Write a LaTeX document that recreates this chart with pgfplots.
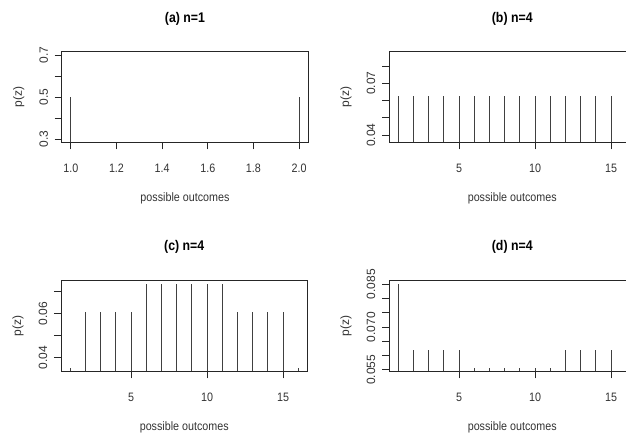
\documentclass[border=0pt]{standalone}
\usepackage{fontspec}
\setmainfont[FakeStretch=0.88]{Liberation Sans}
\newfontfamily\rotfont{Liberation Sans}
\usepackage{pgfplots}
\pgfplotsset{compat=1.18}

% R-like spike plot style, sizes in px (1px = 1bp)
\pgfplotsset{
  rplot/.style={
    scale only axis, width=246.5bp, height=90.6bp,
    anchor=south west, clip=true,
    font=\fontsize{12.2bp}{14bp}\selectfont,
    scaled y ticks=false, scaled x ticks=false,
    axis line style={black!85, line width=0.8bp},
    tick align=outside, xtick pos=bottom, ytick pos=left,
    major tick length=7bp, tick style={black!85, line width=0.8bp},
    xticklabel style={anchor=center, yshift=-19bp, text=black!80},
    yticklabel style={xshift=-11bp, rotate=90, anchor=center, text=black!80,
      font=\rotfont\fontsize{12bp}{14bp}\selectfont},
    title style={at={(axis description cs:0.5,1.3)}, anchor=center,
      font=\fontsize{14bp}{16bp}\selectfont\bfseries},
    xlabel style={at={(axis description cs:0.5,-0.62)}, anchor=center, text=black!80},
    ylabel style={at={(axis description cs:-0.1745,0.5)}, anchor=center, text=black!80,
      font=\rotfont\fontsize{12bp}{14bp}\selectfont},
    xlabel={possible outcomes}, ylabel={p(z)},
  },
  spikes/.style={ycomb, black!75, line width=0.9bp, mark=none},
}

\begin{document}
\begin{tikzpicture}
\useasboundingbox (0,0) rectangle (626bp,434bp);
\clip (0,0) rectangle (626bp,434bp);

% (a)
\begin{axis}[rplot, at={(61.7bp,291.7bp)},
  title={(a) n=1},
  xmin=0.96, xmax=2.04, ymin=0.284, ymax=0.716,
  xtick={1.0,1.2,1.4,1.6,1.8,2.0}, xticklabels={1.0,1.2,1.4,1.6,1.8,2.0},
  ytick={0.3,0.4,0.5,0.6,0.7}, yticklabels={0.3,,0.5,,0.7}]
  \addplot[spikes] coordinates {(1,0.5) (2,0.5)};
\end{axis}

% (b)
\begin{axis}[rplot, at={(389bp,291.7bp)},
  title={(b) n=4},
  xmin=0.4, xmax=16.6, ymin=0.0358, ymax=0.0883,
  xtick={5,10,15}, xticklabels={5,10,15},
  ytick={0.04,0.05,0.06,0.07,0.08}, yticklabels={0.04,,,0.07,}]
  \addplot[spikes] coordinates {
    (1,0.0625) (2,0.0625) (3,0.0625) (4,0.0625) (5,0.0625) (6,0.0625)
    (7,0.0625) (8,0.0625) (9,0.0625) (10,0.0625) (11,0.0625) (12,0.0625)
    (13,0.0625) (14,0.0625) (15,0.0625) (16,0.0625)};
\end{axis}

% (c)
\begin{axis}[rplot, at={(61bp,62.7bp)}, height=91bp,
  title={(c) n=4},
  xmin=0.4, xmax=16.6, ymin=0.0336, ymax=0.0753,
  xtick={5,10,15}, xticklabels={5,10,15},
  ytick={0.04,0.05,0.06,0.07}, yticklabels={0.04,,0.06,}]
  \addplot[spikes] coordinates {
    (1,0.0352) (2,0.0609) (3,0.0609) (4,0.0609) (5,0.0609) (6,0.0737)
    (7,0.0737) (8,0.0737) (9,0.0737) (10,0.0737) (11,0.0737) (12,0.0609)
    (13,0.0609) (14,0.0609) (15,0.0609) (16,0.0352)};
\end{axis}

% (d)
\begin{axis}[rplot, at={(389bp,62.7bp)}, height=91bp,
  title={(d) n=4},
  xmin=0.4, xmax=16.6, ymin=0.0545, ymax=0.0864,
  xtick={5,10,15}, xticklabels={5,10,15},
  ytick={0.055,0.060,0.065,0.070,0.075,0.080,0.085},
  yticklabels={0.055,,,0.070,,,0.085}]
  \addplot[spikes] coordinates {
    (1,0.085) (2,0.0621) (3,0.0621) (4,0.0621) (5,0.0621) (6,0.0556)
    (7,0.0556) (8,0.0556) (9,0.0556) (10,0.0556) (11,0.0556) (12,0.0621)
    (13,0.0621) (14,0.0621) (15,0.0621) (16,0.085)};
\end{axis}
\end{tikzpicture}
\end{document}
